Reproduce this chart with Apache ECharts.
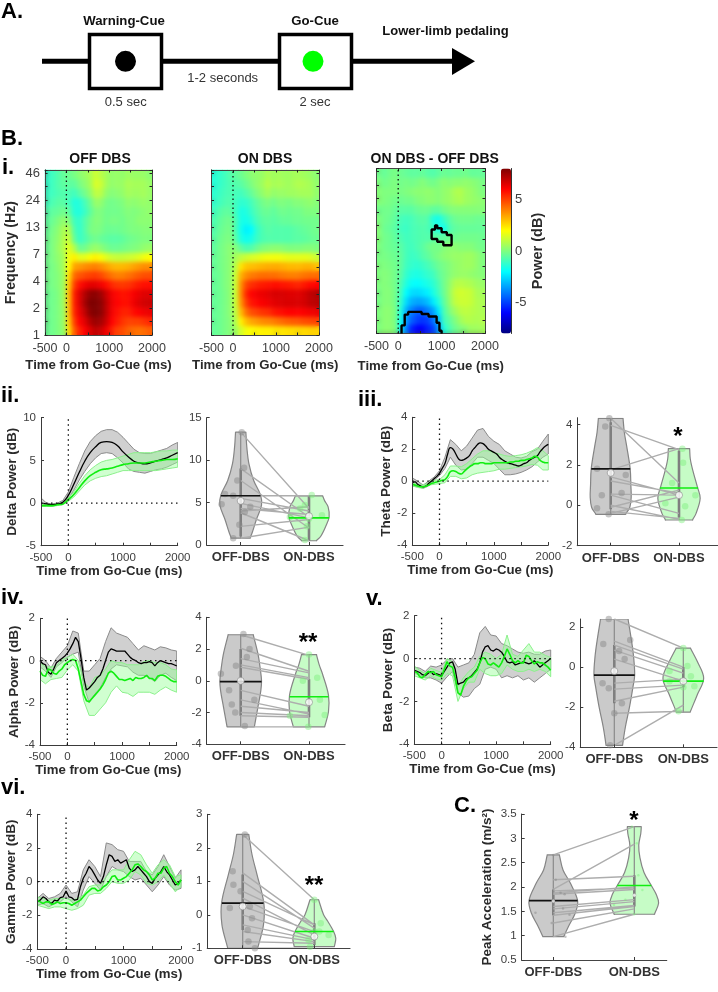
<!DOCTYPE html>
<html><head><meta charset="utf-8"><style>html,body{margin:0;padding:0;background:#fff}#c,#o{width:718px;height:992px;position:absolute;left:0;top:0}#o{z-index:3;pointer-events:none}.b{position:absolute;z-index:2;backdrop-filter:blur(2.2px);-webkit-backdrop-filter:blur(2.2px)}</style>
<script src="https://cdn.jsdelivr.net/npm/echarts@6/dist/echarts.min.js"></script></head><body><div id="c"></div><div id="o"></div>
<script>
// ---------- heatmap data: rows bottom (1 Hz) to top (46 Hz), 20 columns of time
const heatTimes=[-437,-312,-187,-62,62,187,312,437,562,687,812,937,1062,1187,1312,1437,1562,1687,1812,1937];
const freqTicks=['1','2','4','7','13','24','46'];
const heatOff=[
[-.3,-.2,0,.3,2.5,4.5,5.5,6,6.5,7,6.8,6.2,5.5,5,4.8,4.5,4.3,4.2,4.3,4.5],
[-.3,-.2,0,.4,2.8,5,6,6.5,7.2,7.6,7.4,6.8,6,5.6,5.2,5,5,5,5.2,5.4],
[-.3,-.2,0,.4,3,5.4,6.3,7,7.8,8,7.8,7,6.2,5.8,5.5,5.5,5.8,6,6.2,6.3],
[-.3,-.2,0,.5,3,5.5,6.5,7.4,8,8,7.8,7,6.3,6,5.8,5.8,6.2,6.5,6.7,6.8],
[-.3,-.2,0,.5,3,5.5,6.5,7.2,7.7,7.8,7.5,6.8,6.2,5.9,5.7,5.8,6.1,6.3,6.5,6.5],
[-.2,-.1,.1,.5,2.8,5,5.8,6.2,6.4,6.4,6.2,5.8,5.4,5.2,5.1,5.2,5.4,5.6,5.8,5.8],
[-.2,-.1,.1,.5,2.5,4.3,4.7,4.9,5,5.1,4.9,4.5,4.2,4,4,4.2,4.4,4.6,4.8,4.8],
[-.2,-.1,.2,.6,2,3.4,3.6,3.8,3.9,4,3.8,3.5,3.2,3.1,3.1,3.2,3.4,3.6,3.8,3.8],
[-.2,0,.3,.6,1.8,2.2,1.6,1.6,1.9,2.2,1.9,1.5,1.2,1.1,1.1,1.2,1.3,1.5,1.8,2],
[-.3,0,.4,.8,1.6,.8,-.3,-.2,.2,.4,.2,-.1,-.3,-.3,-.2,-.1,0,.1,.3,.4],
[-.3,0,.3,.8,1.2,-.4,-1.1,-.8,-.4,-.2,-.4,-.5,-.6,-.6,-.5,-.3,-.2,-.1,0,0],
[-.4,-.1,.2,.7,.8,-.7,-1.2,-.7,-.1,0,-.1,-.3,-.3,-.3,-.2,-.1,0,0,.1,.1],
[-.5,-.3,0,.3,.1,-1,-1.2,-.7,-.2,.1,0,-.2,-.1,-.1,-.2,0,0,.2,.2,.2],
[-.7,-.5,-.4,-.2,-.5,-1.4,-1.5,-1.1,-.5,0,0,-.2,-.2,-.2,-.1,.1,0,.1,.2,.3],
[-1,-.8,-.6,-.6,-.9,-1.5,-1.4,-.9,-.3,.4,.3,-.1,-.2,-.1,0,.3,.2,.3,.4,.3],
[-1.1,-1,-.8,-.7,-.8,-1,-.6,-.2,.3,1,.9,.3,.1,.2,.3,.6,.5,.5,.6,.4],
[-1.2,-1,-.7,-.5,-.5,-.5,-.1,.2,.6,1.4,1.2,.6,.3,.4,.4,.7,.6,.6,.6,.4],
[-1.2,-1,-.7,-.4,-.3,-.1,.2,.4,.7,1.2,.9,.6,.3,.4,.3,.5,.4,.4,.4,.2]];
const heatOn=[
[-.4,-.3,-.1,.1,.5,1.3,1.8,2,2.1,2.2,2.2,2.3,2.4,2.4,2.5,2.5,2.6,2.6,2.7,2.7],
[-.4,-.3,-.1,.1,.8,2.2,3,3.4,3.6,3.8,3.9,4,4.2,4.4,4.5,4.6,4.7,4.8,4.9,5],
[-.4,-.3,-.1,.2,1,3,4.2,4.8,5,5.2,5.3,5.6,5.8,5.9,6,6,6,6.1,6.2,6.3],
[-.4,-.3,-.1,.2,1.2,3.6,5,5.7,5.9,6.1,6.2,6.4,6.5,6.6,6.6,6.6,6.6,6.7,7,7.1],
[-.4,-.3,-.1,.2,1.2,3.8,5.4,6,6.2,6.3,6.4,6.6,6.6,6.6,6.5,6.5,6.5,6.7,7,7.2],
[-.4,-.3,0,.2,1.2,3.7,4.9,5.3,5.5,5.6,5.7,5.8,5.8,5.7,5.6,5.5,5.5,5.7,5.9,6],
[-.4,-.3,0,.2,1.2,3.2,3.8,4.1,4.2,4.3,4.3,4.3,4.2,4.1,4,4,4.1,4.2,4.3,4.3],
[-.4,-.2,0,.2,.9,2.4,2.9,3,3.1,3.2,3.3,3.3,3.3,3.2,3.1,3.1,3.1,3.2,3.2,3],
[-.4,-.2,0,.2,.6,1,1.2,1.4,1.5,1.7,1.8,1.8,1.8,1.7,1.6,1.6,1.6,1.6,1.5,1.2],
[-.5,-.2,0,.2,.1,-.5,-.8,-.7,-.3,0,.1,.2,.2,.1,0,0,0,.1,.1,0],
[-.6,-.3,-.1,0,-.6,-1.5,-1.8,-1.6,-1.1,-.8,-.7,-.7,-.7,-.7,-.7,-.6,-.6,-.5,-.4,-.3],
[-.7,-.4,-.2,-.1,-.8,-1.7,-2.2,-2,-1.2,-.8,-.6,-.7,-.7,-.7,-.7,-.6,-.5,-.4,-.3,-.2],
[-.8,-.5,-.3,-.2,-.8,-1.6,-1.7,-1.4,-.9,-.6,-.5,-.6,-.5,-.4,-.4,-.3,-.3,-.2,-.2,-.2],
[-1,-.7,-.5,-.5,-1,-1.6,-1.5,-1.1,-.7,-.4,-.3,-.5,-.3,-.2,-.3,-.2,-.2,0,0,0],
[-1.2,-1,-.8,-.7,-1,-1.3,-1.2,-.9,-.5,-.2,0,-.2,0,0,-.1,.1,.1,.2,.3,.1],
[-1.3,-1.1,-.9,-.8,-.9,-1,-.7,-.4,0,.3,.6,.3,.4,.4,.5,.5,.6,.6,.6,.3],
[-1.4,-1.2,-1,-.8,-.7,-.6,-.3,0,.3,.5,.9,.6,.7,.6,.5,.7,.8,.7,.6,.3],
[-1.4,-1.2,-1,-.7,-.5,-.3,0,.2,.3,.4,.7,.5,.6,.5,.5,.6,.6,.5,.4,.2]];
const heatDiff=[
[0,.2,.2,0,-2,-4,-5.5,-6,-6,-5.5,-5,-3.5,-1.5,-.8,-.3,0,.2,.5,.5,.6],
[0,.2,.2,-.1,-1.8,-3.5,-4.5,-5,-5.2,-5,-4.2,-3,-1,-.5,0,.5,.8,.8,.7,.8],
[0,.2,.2,-.1,-1.5,-3.2,-4,-4.5,-4.5,-4,-3.4,-2.3,-.8,0,.5,.9,1,.9,.8,.7],
[-.1,.1,.1,-.2,-1.2,-2.5,-3.2,-3.4,-3.3,-3,-2.3,-1.5,-.5,.3,1,1.2,1.2,1.1,.8,.7],
[-.1,.1,.1,-.2,-1,-2,-2.5,-2.6,-2.4,-2.2,-1.6,-1,-.3,.4,1.1,1.3,1.2,1.1,.7,.6],
[0,.1,0,-.2,-.8,-1.5,-1.9,-2,-1.8,-1.6,-1.3,-.8,-.2,.3,.8,.9,.8,.7,.5,.4],
[0,.1,0,-.2,-.6,-1.2,-1.5,-1.6,-1.4,-1.2,-1,-.5,-.2,.1,.3,.4,.4,.3,.2,.1],
[0,0,-.1,-.2,-.5,-1,-1.2,-1.3,-1.1,-.9,-.6,-.3,-.1,.1,.3,.4,.5,.5,.3,0],
[-.1,-.1,-.2,-.3,-.5,-.9,-1.1,-1,-.7,-.5,-.2,0,.2,.3,.4,.4,.5,.5,.3,0],
[0,-.2,-.3,-.4,-.6,-.9,-1,-.8,-.6,-.3,-.1,-.2,.1,.2,.2,.1,.1,.1,-.1,-.2],
[.1,-.2,-.3,-.5,-.8,-1,-.9,-.8,-.7,-.7,-.6,-.6,-.5,-.3,-.3,-.2,-.2,-.2,-.2,-.3],
[.1,-.3,-.4,-.6,-1,-1.1,-.9,-.8,-.7,-.8,-1.1,-1.6,-1.7,-.8,-.5,-.4,-.4,-.4,-.4,-.4],
[0,-.2,-.3,-.5,-.9,-1,-.9,-.7,-.6,-.7,-1.5,-1.7,-1.1,-.6,-.3,-.2,-.2,-.2,-.3,-.3],
[-.2,-.2,-.2,-.4,-.6,-.6,-.6,-.4,-.3,-.3,-.5,-.5,-.2,0,.1,.1,.1,.1,.1,.1],
[.1,0,-.1,-.2,-.3,-.2,-.2,0,.1,.2,.2,.1,.3,.4,.6,.7,.5,.4,.3,.2],
[.1,0,0,0,-.1,0,.1,.2,.2,.3,.2,.1,.3,.4,.7,.8,.5,.4,.2,0],
[0,-.2,-.1,0,-.2,-.1,-.2,-.1,.1,-.1,-.2,0,.2,.1,.2,.2,.3,.2,.1,-.1],
[-.2,-.4,-.2,-.1,-.3,-.4,-.5,-.5,-.4,-.6,-.7,-.5,-.3,-.4,-.3,-.3,-.2,-.4,-.4,-.4]];
// significance contours: [time ms, frequency tick position]
const contourLow=[[77,0],[77,.3],[150,.3],[150,.7],[230,.7],[230,.8],[540,.8],[540,.72],[700,.72],[700,.63],[885,.63],[885,.4],[950,.4],[950,.1],[1000,.1],[1000,0]];
const contourHigh=[[770,3.6],[770,3.85],[850,3.85],[850,4.0],[900,4.0],[900,3.9],[1000,3.9],[1000,3.75],[1120,3.75],[1120,3.65],[1230,3.65],[1230,3.27],[1040,3.27],[1040,3.4],[900,3.4],[900,3.5],[770,3.5],[770,3.6]];

// ---------- time courses (evenly spaced over -500..2000 ms)
const deltaOffMean=[0,-.1,-.2,-.1,.1,.9,2.2,3.6,4.9,5.9,6.6,7.1,7.2,7.1,6.7,6,5.4,4.9,4.7,4.6,4.7,4.9,5.1,5.3,5.6,5.9];
const deltaOffHi=[.6,0,-.1,0,.3,1.3,3,4.6,6.1,7.2,7.9,8.4,8.6,8.6,8.3,7.7,7,6.3,5.9,5.8,5.8,6,6.2,6.4,6.8,7.1];
const deltaOffLo=[-.3,-.3,-.4,-.2,-.1,.5,1.5,2.7,3.7,4.6,5.3,5.8,5.9,5.8,5.3,4.7,4,3.7,3.6,3.5,3.7,3.9,4,4.2,4.5,4.8];
const deltaOnMean=[-.3,-.3,-.3,-.2,-.1,.4,1,1.8,2.6,3.2,3.6,3.9,4,4.1,4.3,4.5,4.6,4.7,4.7,4.7,4.8,4.9,5,5.1,5.1,5.2];
const deltaOnHi=[-.2,-.2,-.2,-.1,.1,.6,1.3,2.3,3.2,3.9,4.4,4.8,5,5.1,5.3,5.5,5.7,5.9,5.9,5.9,5.9,6,6.1,6.1,6.2,6.2];
const deltaOnLo=[-.4,-.4,-.4,-.3,-.2,.2,.7,1.4,2.1,2.6,2.9,3.1,3.2,3.4,3.6,3.8,3.8,3.8,3.8,3.8,3.8,3.8,3.9,4,4.1,4.2];

const thetaOffMean=[-.1,-.05,-.2,-.3,-.35,-.3,-.15,0,.15,.3,.5,.8,1.1,1.7,2.1,2,1.7,1.4,1.3,1.35,1.45,1.6,1.9,2.1,2.3,2.4,2.35,2.2,2,1.9,1.8,1.7,1.5,1.35,1.25,1.15,1.1,1.05,1,.95,1,1.1,1.15,1.3,1.4,1.5,1.6,1.85,2.05,2.2,2.3];
const thetaOffHi=[.2,0,-.25,0,.25,.65,1.5,2.6,2.3,1.9,2.2,2.7,3.2,3.3,2.8,2.5,2.3,1.9,1.7,1.5,1.45,1.55,1.85,2,2.5,2.95];
const thetaOffLo=[-.3,-.35,-.45,-.3,.05,.35,.8,1.5,1,.7,.75,1.1,1.5,1.5,1.3,1.1,.75,.4,.4,.45,.55,.7,.9,1.2,1.5,1.7];
const thetaOnMean=[-.2,-.25,-.3,-.35,-.35,-.3,-.25,-.15,-.1,-.05,0,.05,.1,.3,.6,.65,.6,.5,.45,.6,.75,.9,1,1.1,1.1,1.15,1.15,1.1,1.1,1.1,1.15,1.15,1.15,1.15,1.15,1.15,1.2,1.2,1.25,1.25,1.3,1.3,1.35,1.4,1.45,1.55,1.5,1.3,1.2,1.15,1.15];
const thetaOnHi=[-.1,-.2,-.25,-.1,.05,.1,.4,.95,.95,.9,1.1,1.4,1.7,1.9,1.9,1.8,1.7,1.6,1.55,1.6,1.65,1.75,1.9,2.1,1.9,1.6];
const thetaOnLo=[-.3,-.4,-.45,-.25,-.2,-.15,-.1,.3,.3,.15,.2,.4,.5,.55,.6,.65,.75,.75,.8,.85,.9,.95,1.05,1,.7,.7];

const alphaOffMean=[0,-.15,-.2,-.55,-.65,-.4,-.1,0,.1,.2,.35,.55,.8,1.1,.9,.1,-.8,-1.4,-1.3,-1.15,-1,-.8,-.7,-.4,0,.4,.55,.5,.45,.45,.45,.45,.3,.15,.05,0,-.1,-.15,-.1,-.1,-.05,-.1,-.25,-.1,0,-.05,-.1,-.15,-.15,-.2,-.25];
const alphaOffHi=[.2,0,-.35,.1,.4,.7,1.4,1.3,-.5,-.5,-.2,.1,.9,1.55,1.3,1.2,1.1,.8,.5,.7,.6,.5,.65,.6,.5,.45];
const alphaOffLo=[-.3,-.5,-.8,-.3,-.1,.15,.3,.4,-1.2,-2,-1.6,-1.3,-.8,-.4,-.2,-.25,-.3,-.55,-.7,-.7,-.8,-1,-.7,-.6,-.8,-.95];
const alphaOnMean=[-.5,-.7,-.75,-.4,-.45,-.6,-.65,-.5,-.4,-.2,-.1,0,.05,0,-.4,-1,-1.6,-1.9,-1.95,-1.8,-1.65,-1.5,-1.35,-1.15,-.9,-.6,-.5,-.6,-.75,-.9,-.9,-.95,-.9,-.85,-.95,-.8,-.85,-.85,-.8,-.7,-.85,-.85,-.95,-.75,-.7,-.7,-.75,-.85,-.95,-1,-1];
const alphaOnHi=[-.1,-.3,-.3,-.25,.05,.15,.3,0,-1,-1.3,-.8,-.7,-.4,0,-.1,-.1,-.2,-.2,-.2,-.05,0,-.1,-.1,-.2,-.4,-.45];
const alphaOnLo=[-.9,-1.1,-.9,-.85,-.8,-.45,-.2,-.5,-1.9,-2.6,-2.6,-2.3,-2,-1.5,-1.2,-1.5,-1.55,-1.7,-1.5,-1.5,-1.5,-1.6,-1.4,-1.25,-1.4,-1.5];

const betaOffMean=[-.55,-.6,-.65,-.75,-.8,-.7,-.6,-.75,-.7,-.75,-.8,-.6,-.4,-.2,-.15,-.5,-1.2,-1.15,-1.1,-.95,-.9,-.8,-.65,-.5,-.2,.3,.55,.6,.4,.35,.45,.4,.3,.1,-.15,-.2,-.15,-.3,-.25,-.2,-.15,-.2,-.25,-.2,-.1,-.25,-.4,-.3,-.2,-.1,0];
const betaOffHi=[-.4,-.45,-.6,-.35,-.4,-.3,-.05,0,-.4,-.3,-.2,.2,1.2,1.5,1.1,1.05,.7,.6,.45,.3,.25,.3,.2,.2,.35,.4];
const betaOffLo=[-.7,-.75,-.9,-.9,-1,-1.15,-.85,-.6,-1.6,-1.8,-1.75,-1.4,-1.2,-.5,-.4,-.5,-.9,-.8,-.9,-.8,-1,-.9,-1.1,-.9,-.7,-.5];
const betaOnMean=[-.6,-.65,-.85,-.9,-.75,-.6,-.65,-.6,-.75,-.8,-.85,-.5,-.15,-.35,-.4,-.9,-1.6,-1.7,-1.3,-1.05,-.9,-.85,-.7,-.55,-.2,.05,0,-.25,-.3,-.2,-.3,-.4,-.2,.1,.45,.2,-.1,-.2,-.1,-.2,-.2,.15,.1,-.1,-.25,-.15,-.2,-.2,-.3,-.4,-.55];
const betaOnHi=[-.35,-.55,-.7,-.45,-.55,-.65,0,-.15,-1.3,-.9,-.6,-.4,.1,.3,.2,0,.2,1.1,.2,.1,.4,.7,.3,.3,.15,.05];
const betaOnLo=[-.8,-.9,-1,-.8,-.95,-1,-.7,-.8,-2,-1.4,-1.1,-1.1,-.5,-.7,-.8,-.8,-.7,-.3,-.5,-.6,-.6,-.5,-.6,-.5,-.6,-.85];

const gammaOffMean=[-1.2,-1.1,-.9,-1,-1.2,-1.3,-1.1,-1.15,-.95,-.9,-.55,-.9,-.95,-1.1,-1.05,-.3,.2,.5,.9,.7,.4,.1,-.1,.3,1,1.6,1.5,1.2,1.3,1.1,1.2,1.3,.8,.6,.7,.9,.7,.5,.3,0,-.1,.2,.4,.6,.9,.6,.4,.1,-.2,-.1,.1];
const gammaOffHi=[-1,-.7,-1,-.9,-.7,-.2,-.7,-.6,.7,1.3,.9,.3,2.3,2.2,1.9,1.8,1.2,1.2,1.2,.6,.4,.9,1.6,.9,.2,.7];
const gammaOffLo=[-1.4,-1.3,-1.5,-1.3,-1.2,-.9,-1.2,-1.5,-.5,.3,-.1,-.5,.3,.9,.7,.6,.3,.1,.2,-.2,-.6,-.2,.3,-.2,-.5,-.4];
const gammaOnMean=[-1.1,-1.2,-1.3,-1.2,-1.2,-1.35,-1.3,-1.2,-1.3,-1.25,-1.25,-1.3,-1.4,-1.3,-1.2,-1.1,-.9,-.7,-.55,-.4,-.4,-.55,-.5,-.3,-.2,0,.3,.35,.1,.1,.2,.3,.5,.7,1,1.05,.9,.7,.6,.4,.1,.2,.5,.5,.8,.9,.5,.3,0,-.2,.1];
const gammaOnHi=[-.9,-1,-1.1,-1,-1,-1,-1.1,-1,-.8,-.3,-.2,-.2,.3,.7,.7,.7,1.3,1.8,1.6,1,.5,1,1.3,1,.3,.4];
const gammaOnLo=[-1.4,-1.5,-1.6,-1.5,-1.5,-1.6,-1.7,-1.6,-1.4,-.8,-.7,-.7,-.4,0,-.1,-.1,.1,.6,.4,-.1,-.2,0,.4,-.1,-.6,-.3];

// ---------- violins: outline [value, half width], paired values, jittered dots [offset, value]
const deltaOffShape=[[.8,.14],[1.5,.17],[3,.23],[4.7,.305],[5.9,.29],[7.6,.19],[9.6,.12],[11.5,.09],[13.3,.075]];
const deltaOnShape=[[.5,.11],[1,.17],[2.2,.245],[3.3,.295],[4.5,.28],[5.2,.23],[5.8,.2]];
const deltaPairs=[[13.3,4.3],[9,3.3],[7.6,2],[5.8,5.8],[5.5,4],[4.9,3.2],[4.3,3.6],[4,4.5],[3.8,.5],[2.2,3],[.8,2.1]];
const deltaOffDots=[[-.28,4.8],[-.23,6],[-.11,5.8],[-.05,7.6],[.05,9.1],[.015,13.3],[-.11,.8],[-.02,2.4],[.06,3.9],[.14,4.5]];
const deltaOnDots=[[.04,5.9],[.19,3.5],[-.28,3.3],[-.13,4.3],[-.06,4.7],[-.03,2.2],[-.06,.6],[0,3.1]];
const thetaOffShape=[[-.45,.22],[-.1,.28],[.4,.3],[1,.295],[1.8,.285],[2.9,.235],[3.6,.2],[4.3,.18]];
const thetaOnShape=[[-.73,.2],[-.4,.25],[.35,.31],[.9,.27],[1.75,.2],[2.3,.165],[2.8,.155]];
const thetaPairs=[[4.3,1.1],[3.95,2.75],[1.75,2.8],[1.4,.5],[1.2,.6],[.55,.5],[.5,-.4],[-.1,.75],[-.3,-.65],[-.4,.4],[0,-.7]];
const thetaOffDots=[[-.02,4.3],[-.08,3.9],[-.2,1.8],[.22,1.5],[-.13,.5],[.16,.6],[-.2,-.15],[-.03,-.45]];
const thetaOnDots=[[.05,2.8],[.06,2.1],[.24,.5],[.09,-.05],[-.1,1.1],[.04,-.73],[-.2,.1]];
const alphaOffShape=[[-2.9,.2],[-1.7,.25],[-.6,.295],[0,.305],[.8,.285],[1.65,.255],[2.9,.185]];
const alphaOnShape=[[-2.9,.23],[-1.95,.285],[-.9,.285],[.4,.2],[1,.15],[1.65,.11]];
const alphaPairs=[[2.9,1.6],[2.05,.6],[1.4,.5],[1,.2],[.85,.1],[-.6,-1.6],[-1.2,-2.1],[-1.6,-2],[-2,-2.2],[-2.2,-2.3],[-2.9,-2.9]];
const alphaOffDots=[[.04,2.95],[.13,2],[.09,1.5],[-.07,.95],[-.29,.45],[-.17,-.6],[-.13,-1.5],[-.08,-2],[.2,-1.2],[.06,-2.85]];
const alphaOnDots=[[0,1.65],[-.09,0],[.12,.2],[.16,-1.2],[.23,-2.15],[-.28,-2.2],[-.01,-2.9]];
const betaOffShape=[[-3.9,.12],[-3,.16],[-2,.22],[-1,.27],[-.4,.295],[.5,.28],[1.3,.25],[2.4,.2]];
const betaOnShape=[[-2.25,.1],[-1.4,.2],[-.55,.295],[.3,.2],[.95,.105]];
const betaPairs=[[2.4,.95],[1.3,0],[1.1,-.1],[.85,-.3],[.4,-.7],[-.8,-.6],[-1.1,-.9],[-1.7,-1],[-2.3,-2.2],[-3.9,-1.9]];
const betaOffDots=[[-.08,2.4],[.23,1.35],[-.16,1.15],[.07,.8],[.15,.4],[-.17,-.8],[-.08,-1.05],[.11,-1.8],[0,-2.3],[-.06,-3.9]];
const betaOnDots=[[0,.95],[.06,.05],[.11,-.45],[-.2,-.2],[-.2,-.7],[.16,-.95],[0,-1],[-.07,-2.2]];
const gammaOffShape=[[-1,.21],[-.3,.29],[.35,.295],[1.2,.2],[1.8,.13],[2.4,.085]];
const gammaOnShape=[[-.95,.28],[-.7,.3],[-.5,.27],[-.2,.19],[0,.13],[.45,.06]];
const gammaPairs=[[2.4,.45],[1.25,-.3],[1,-.4],[.7,-.3],[.5,-.6],[.25,-.5],[0,-.7],[-.3,-.75],[-.5,-.8],[-.8,-.85],[-1,-1]];
const gammaOffDots=[[.03,2.4],[-.14,1.3],[-.13,.9],[-.03,.7],[-.18,.2],[.1,.25],[.13,-.1],[.07,-.45],[.08,-.8],[.17,-1]];
const gammaOnDots=[[0,.45],[.09,-.25],[.2,-.6],[0,-.5],[-.08,-.75],[-.06,-.95],[.07,-.5]];
const accOffShape=[[.98,.13],[1.2,.19],[1.46,.27],[1.72,.3],[2.08,.21],[2.35,.12],[2.66,.075]];
const accOnShape=[[1.44,.25],[1.67,.3],[1.85,.27],[2.03,.21],[2.3,.12],[2.6,.07],[2.86,.055],[3.1,.08],[3.24,.085]];
const accPairs=[[2.66,3.24],[2.15,2.22],[1.95,2.88],[1.92,1.98],[1.88,2],[1.85,1.95],[1.6,1.74],[1.55,1.7],[1.47,1.62],[1.42,1.6],[1.26,1.55],[.98,1.44]];
const accOffDots=[[0,2.66],[.03,2.15],[.09,1.88],[.14,1.85],[-.22,1.47],[.12,1.56],[.2,1.43],[-.02,1.26],[.15,.98]];
const accOnDots=[[-.03,3.24],[.03,2.9],[.05,2.24],[.1,1.94],[-.11,1.74],[-.25,1.63],[0,1.44]];

const F='"Liberation Sans",Arial,sans-serif';
const AX='#3a3a3a',TX='#404040';
const grid=[],xAxis=[],yAxis=[],series=[];
const frame=(l,r,t,b)=>({left:l,top:t,width:r-l,height:b-t,containLabel:false});
function poly(g,pts,fill,stroke,lw,x,y,smooth){
  series.push({type:'custom',xAxisIndex:x,yAxisIndex:y,coordinateSystem:'cartesian2d',silent:true,clip:true,data:pts,
    encode:{x:0,y:1},z:3,animation:false,
    renderItem:(p,api)=>p.dataIndex?null:{type:'polygon',shape:{points:pts.map(q=>api.coord(q)),smooth:smooth||0},style:{fill:fill,stroke:stroke,lineWidth:lw}}});
}
function line(pts,color,lw,x,y,extra){
  series.push(Object.assign({type:'line',xAxisIndex:x,yAxisIndex:y,data:pts,showSymbol:false,symbol:'none',silent:true,z:4,animation:false,
    lineStyle:{color:color,width:lw}},extra||{}));
}
const tl=v=>(v===500||v===1500)?'':String(v);
function timeX(g,size,extra){
  const i=xAxis.length;
  xAxis.push(Object.assign({type:'value',gridIndex:g,min:-500,max:2000,interval:500,position:'bottom',z:6,
    axisLine:{onZero:false,show:true,lineStyle:{color:AX,width:1}},axisTick:{show:true,inside:true,length:3,lineStyle:{color:AX}},
    splitLine:{show:false},axisLabel:{show:true,formatter:tl,color:TX,fontSize:size,fontFamily:F,margin:6,hideOverlap:false},
    name:'Time from Go-Cue (ms)',nameLocation:'middle',nameGap:19,nameTextStyle:{fontFamily:F,fontWeight:'bold',fontSize:13.2,color:'#2a2a2a'}},extra||{}));
  return i;
}
function valueY(g,min,max,int,name,gap,extra){
  const i=yAxis.length;
  yAxis.push(Object.assign({type:'value',gridIndex:g,min:min,max:max,interval:int,position:'left',z:6,
    axisLine:{onZero:false,show:true,lineStyle:{color:AX,width:1}},axisTick:{show:true,inside:true,length:3,lineStyle:{color:AX}},
    splitLine:{show:false},axisLabel:{color:TX,fontSize:11.5,fontFamily:F,margin:5},
    name:name||'',nameLocation:'middle',nameGap:gap||20,nameRotate:90,nameTextStyle:{fontFamily:F,fontWeight:'bold',fontSize:13.5,color:'#2a2a2a'}},extra||{}));
  return i;
}
const xy=a=>a.map((v,i)=>[-500+2500*i/(a.length-1),v]);
const dot=w=>({color:'#111',width:w,type:[1.5,3.5]});
function timePanel(L,R,T,B,ymin,ymax,yint,name,gap,offM,offH,offL,onM,onH,onL,smooth){
  const g=grid.length;grid.push(frame(L,R,T,B));
  const x=timeX(g,11.5),y=valueY(g,ymin,ymax,yint,name,gap);
  line([[0,ymin],[0,ymax]],'#111',1.3,x,y,{lineStyle:dot(1.3),z:7});
  line([[-500,0],[2000,0]],'#111',1.3,x,y,{lineStyle:dot(1.3),z:7});
  const band=(hi,lo)=>xy(lo).concat(xy(hi).reverse());
  poly(g,band(offH,offL),'rgba(170,170,170,.55)','#8a8a8a',1,x,y);
  line(xy(offM),'#000',1.3,x,y,{smooth:smooth,z:3});
  poly(g,band(onH,onL),'rgba(150,255,150,.45)','#8cf08c',1,x,y);
  line(xy(onM),'#10ee10',1.6,x,y,{smooth:smooth,z:5});
}
function violin(L,R,T,B,cOff,cOn,ymin,ymax,yint,oS,nS,pairs,oD,nD,oStat,nStat,r,name,gap){
  const g=grid.length;grid.push(frame(L,R,T,B));
  const u=cOn-cOff,xmin=1-(cOff-L)/u,xmax=2+(R-cOn)/u;
  const x=xAxis.length;
  xAxis.push({type:'value',gridIndex:g,min:xmin,max:xmax,position:'bottom',z:6,
    axisLine:{onZero:false,show:true,lineStyle:{color:'#444',width:1.2}},splitLine:{show:false},
    axisTick:{show:true,inside:true,length:3,customValues:[1,2],lineStyle:{color:AX}},
    axisLabel:{show:true,customValues:[1,2],formatter:v=>v===1?'OFF-DBS':'ON-DBS',fontFamily:F,fontWeight:'bold',fontSize:13,color:'#333',margin:6}});
  const y=valueY(g,ymin,ymax,yint,name,gap,{axisLabel:{color:TX,fontSize:11.5,fontFamily:F,margin:5,showMaxLabel:(ymax-ymin)/yint%1===0}});
  // outline: tight corner guards keep the flat ends square when the sides are smoothed
  const shape=(c,s)=>{
    const e=(s[s.length-1][0]-s[0][0])*.006,a=s[0],z=s[s.length-1];
    const side=(sgn,lst)=>lst.map(p=>[c+sgn*p[1],p[0]]);
    return [[c+a[1]-.012,a[0]],[c+a[1],a[0]],[c+a[1]+.001,a[0]+e]]
      .concat(side(1,s.slice(1,-1)))
      .concat([[c+z[1]+.001,z[0]-e],[c+z[1],z[0]],[c+z[1]-.012,z[0]],[c-z[1]+.012,z[0]],[c-z[1],z[0]],[c-z[1]-.001,z[0]-e]])
      .concat(side(-1,s.slice(1,-1).reverse()))
      .concat([[c-a[1]-.001,a[0]+e],[c-a[1],a[0]],[c-a[1]+.012,a[0]]]);
  };
  poly(g,shape(1,oS),'#cacaca','#858585',1.2,x,y,.35);
  poly(g,shape(2,nS),'#c6fcc6','#858585',1.2,x,y,.35);
  const draw=(c,s,st,col)=>{
    line([[c,s[0][0]],[c,s[s.length-1][0]]],'#8a8a8a',1.2,x,y);
    line([[c,st.q1],[c,st.q3]],'#7f7f7f',2.6,x,y);
    line([[c-st.w,st.med],[c+st.w,st.med]],col,1.6,x,y,{z:8});
  };
  draw(1,oS,oStat,'#111');draw(2,nS,nStat,'#10ee10');
  const lnk=[];pairs.forEach(p=>{lnk.push([1,p[0]],[2,p[1]],['-','-']);});
  line(lnk,'#adadad',1.4,x,y,{z:5,connectNulls:false});
  series.push({type:'scatter',xAxisIndex:x,yAxisIndex:y,silent:true,animation:false,symbolSize:r,z:6,clip:false,
    data:oD.map(d=>[1+d[0],d[1]]),itemStyle:{color:'rgba(135,135,135,.6)'}});
  series.push({type:'scatter',xAxisIndex:x,yAxisIndex:y,silent:true,animation:false,symbolSize:r,z:6,clip:false,
    data:nD.map(d=>[2+d[0],d[1]]),itemStyle:{color:'rgba(120,240,120,.55)'}});
  series.push({type:'scatter',xAxisIndex:x,yAxisIndex:y,silent:true,animation:false,symbolSize:r>5?7:3.5,z:9,clip:false,
    data:[[1,oStat.mean],[2,nStat.mean]],itemStyle:{color:'#fff',borderColor:'#888',borderWidth:r>5?.8:.3}});
}

// ---------- heatmaps
const heatIdx=[];
const tickLine={color:'#222'},boxLine={onZero:false,show:true,lineStyle:{color:'#444',width:1}};
const ov={grid:[],xAxis:[],yAxis:[],series:[]};
const yTick=(g,pos,lab,name)=>{const i=yAxis.length;
  yAxis.push({type:'value',gridIndex:g,min:0,max:6.11,interval:.5,position:pos,z:6,splitLine:{show:false},
   axisLine:boxLine,axisTick:{show:true,inside:true,length:2.5,lineStyle:tickLine},
   axisLabel:{show:lab,formatter:v=>Number.isInteger(v)?freqTicks[v]:'',color:TX,fontSize:13,fontFamily:F,margin:5,showMaxLabel:false},
   name:name||'',nameLocation:'middle',nameGap:27,nameRotate:90,nameTextStyle:{fontFamily:F,fontWeight:'bold',fontSize:14.3,color:'#2a2a2a'}});return i;};
function heat(L,R,T,B,mat,labels,name,conts,nameGap){
  const g=grid.length;grid.push(frame(L,R,T,B));
  timeX(g,12.5,{nameGap:nameGap,axisLabel:{formatter:tl,color:TX,fontSize:12.5,fontFamily:F,margin:7,hideOverlap:false},axisTick:{show:true,inside:true,length:2.5,lineStyle:tickLine},axisLine:boxLine});
  yTick(g,'left',labels,name);
  const xc=xAxis.length;xAxis.push({type:'category',gridIndex:g,show:false,data:heatTimes,position:'bottom'});
  const yc=yAxis.length;yAxis.push({type:'category',gridIndex:g,show:false,data:mat.map((r,i)=>i),position:'left'});
  const d=[];mat.forEach((r,j)=>r.forEach((v,i)=>d.push([i,j,v])));
  heatIdx.push(series.length);
  series.push({type:'heatmap',xAxisIndex:xc,yAxisIndex:yc,data:d,silent:true,animation:false,progressive:0,z:2,emphasis:{disabled:true}});
  // crisp frame, cue marker and contours sit above the softening layer
  const k=ov.grid.length;ov.grid.push(frame(L,R,T,B));
  const box=(pos)=>({type:'value',gridIndex:k,position:pos,splitLine:{show:false},axisLine:boxLine,axisLabel:{show:false},axisTick:{show:true,inside:true,length:2.5,lineStyle:tickLine}});
  const xb=ov.xAxis.length;
  ov.xAxis.push(Object.assign(box('bottom'),{min:-500,max:2000,interval:500}),Object.assign(box('top'),{min:-500,max:2000,interval:500}));
  const yb=ov.yAxis.length;
  ov.yAxis.push(Object.assign(box('left'),{min:0,max:6.11,interval:.5}),Object.assign(box('right'),{min:0,max:6.11,interval:.5}));
  const add=(data,style)=>ov.series.push({type:'line',xAxisIndex:xb,yAxisIndex:yb,data:data,symbol:'none',silent:true,animation:false,lineStyle:style});
  add([[0,0],[0,6.11]],{color:'#111',width:1.3,type:[1.5,3]});
  (conts||[]).forEach(c=>add(c,{color:'#000',width:2.4}));
  const b=document.createElement('div');b.className='b';
  b.style.cssText='left:'+L+'px;top:'+T+'px;width:'+(R-L)+'px;height:'+(B-T)+'px';
  document.body.appendChild(b);
}
heat(45,152,170,335,heatOff,true,'Frequency (Hz)',null,24);
heat(211.5,319,170,335,heatOn,false,'',null,24);
heat(376.5,485,168.5,333.5,heatDiff,false,'',[contourLow,contourHigh],26);
// colorbar scale
(function(){const g=grid.length;grid.push(frame(501,511,168.5,333.5));
  xAxis.push({type:'value',gridIndex:g,min:0,max:1,show:false});
  valueY(g,-8,8,5,'Power (dB)',18,{position:'right',min:-8,max:8,axisTick:{show:true,inside:false,length:0,customValues:[-5,0,5]},
    axisLine:{onZero:false,show:true,lineStyle:{color:'#333'}},nameTextStyle:{fontFamily:F,fontWeight:'bold',fontSize:14.5,color:'#2a2a2a'},
    axisLabel:{customValues:[-5,0,5],color:TX,fontSize:13,fontFamily:F,margin:4}});
})();

// ---------- time courses and violins
timePanel(41,177.7,417.7,545.7,-5,10,5,'Delta Power (dB)',12,deltaOffMean,deltaOffHi,deltaOffLo,deltaOnMean,deltaOnHi,deltaOnLo,true);
violin(206.7,343,417.7,545,240.7,309,0,15,5,deltaOffShape,deltaOnShape,deltaPairs,deltaOffDots,deltaOnDots,
  {q1:1,q3:9,med:5.8,mean:5.2,w:.29},{q1:.5,q3:5.8,med:3.2,mean:3.4,w:.295},6.5);
timePanel(412.3,548.3,417.3,545,-4,4,2,'Theta Power (dB)',16,thetaOffMean,thetaOffHi,thetaOffLo,thetaOnMean,thetaOnHi,thetaOnLo,true);
violin(577.3,717.7,417.7,545.7,610.7,679,-2,4.33,2,thetaOffShape,thetaOnShape,thetaPairs,thetaOffDots,thetaOnDots,
  {q1:-.2,q3:4.1,med:1.8,mean:1.6,w:.285},{q1:-.6,q3:2.7,med:.85,mean:.5,w:.28},6.5);
timePanel(40,176.7,618.3,745,-4,2,2,'Alpha Power (dB)',15,alphaOffMean,alphaOffHi,alphaOffLo,alphaOnMean,alphaOnHi,alphaOnLo,false);
violin(206.7,345,617.3,744.3,240.7,309,-4,4,2,alphaOffShape,alphaOnShape,alphaPairs,alphaOffDots,alphaOnDots,
  {q1:-2.2,q3:2,med:-.05,mean:0,w:.305},{q1:-2.3,q3:.1,med:-1,mean:-1.35,w:.285},6.5);
timePanel(414.3,550.7,615.7,744.3,-4,2,2,'Beta Power (dB)',19,betaOffMean,betaOffHi,betaOffLo,betaOnMean,betaOnHi,betaOnLo,false);
violin(580.3,717,619,747.3,614.3,683.3,-4,2.4,2,betaOffShape,betaOnShape,betaPairs,betaOffDots,betaOnDots,
  {q1:-1.8,q3:1.1,med:-.4,mean:-.2,w:.295},{q1:-1,q3:0,med:-.7,mean:-.7,w:.295},6.5);
timePanel(37.3,181,814.3,949,-4,4,2,'Gamma Power (dB)',15,gammaOffMean,gammaOffHi,gammaOffLo,gammaOnMean,gammaOnHi,gammaOnLo,false);
violin(207.3,350,814.3,948.3,242.7,314.3,-1,3,1,gammaOffShape,gammaOnShape,gammaPairs,gammaOffDots,gammaOnDots,
  {q1:-.45,q3:1.2,med:.35,mean:.25,w:.29},{q1:-.9,q3:-.25,med:-.5,mean:-.65,w:.27},6.5);
violin(521.7,666.7,814,960,553.3,634.3,.5,3.5,.5,accOffShape,accOnShape,accPairs,accOffDots,accOnDots,
  {q1:1.42,q3:1.95,med:1.72,mean:1.71,w:.3},{q1:1.6,q3:2.24,med:2.03,mean:1.83,w:.21},2.5,'Peak Acceleration (m/s²)',27);

// ---------- text and the trial schematic
const T=(text,x,y,size,bold,extra)=>({type:'text',x:x,y:y,z:20,silent:true,style:Object.assign({text:text,font:(bold?'bold ':'')+size+'px '+F,fill:bold?'#111':'#333',align:'center',verticalAlign:'middle'},extra||{})});
const L=(text,x,y)=>T(text,x,y,22,true,{align:'left',fill:'#000'});
const graphic=[
 {type:'line',z:10,shape:{x1:42,y1:61.3,x2:455,y2:61.3},style:{stroke:'#000',lineWidth:5}},
 {type:'polygon',z:10,shape:{points:[[452,48],[475,61.3],[452,75]]},style:{fill:'#000'}},
 {type:'rect',z:11,shape:{x:89.5,y:34.5,width:72,height:54},style:{fill:'#fff',stroke:'#000',lineWidth:3.5}},
 {type:'rect',z:11,shape:{x:279.5,y:34.5,width:72,height:54},style:{fill:'#fff',stroke:'#000',lineWidth:3.5}},
 {type:'circle',z:12,shape:{cx:125.5,cy:61.3,r:10.5},style:{fill:'#000'}},
 {type:'circle',z:12,shape:{cx:313,cy:61.3,r:10.5},style:{fill:'#00ff00'}},
 T('Warning-Cue',124,21,13.2,true),T('Go-Cue',315,21,13.2,true),T('Lower-limb pedaling',445.5,31,13,true),
 T('1-2 seconds',222.7,78,13,false),T('0.5 sec',125.7,102,13,false),T('2 sec',315,102,13,false),
 L('A.',1,12),L('B.',1,139),L('i.',2,168),L('ii.',1,396),L('iii.',358,400),L('iv.',1,598),L('v.',366,599),L('vi.',1,788),L('C.',454,806),
 T('OFF DBS',100,159,14,true),T('ON DBS',265,159,14,true),T('ON DBS - OFF DBS',434.7,159,14,true),
 T('*',678,437,24,true,{fill:'#000'}),T('**',308,643,24,true,{fill:'#000'}),T('**',314,886,24,true,{fill:'#000'}),T('*',634,821,24,true,{fill:'#000'})
];

const chart=echarts.init(document.getElementById('c'),null,{renderer:'canvas'});
chart.setOption({animation:false,backgroundColor:'#fff',grid,xAxis,yAxis,series,graphic,
 visualMap:[{type:'continuous',min:-8,max:8,seriesIndex:heatIdx,show:true,calculable:false,left:501,top:168.5,itemWidth:10,itemHeight:165,padding:0,text:null,
  textStyle:{fontSize:0},inRange:{color:['#00007f','#0000ff','#007fff','#00ffff','#7fff7f','#ffff00','#ff7f00','#ff0000','#7f0000']}}]});
const overlay=echarts.init(document.getElementById('o'),null,{renderer:'canvas'});
overlay.setOption(Object.assign({animation:false,backgroundColor:'transparent'},ov));
</script></body></html>
